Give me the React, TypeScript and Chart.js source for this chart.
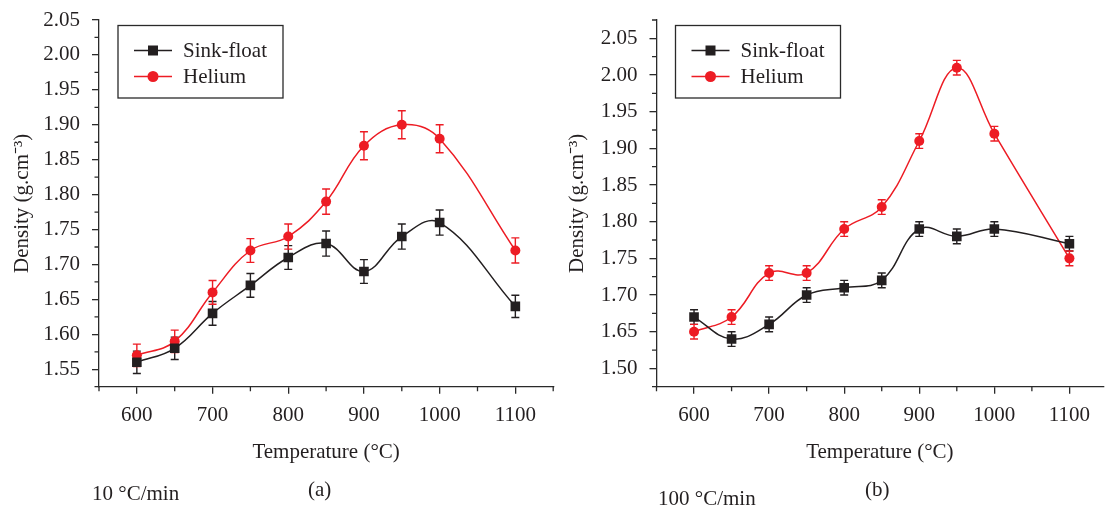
import React, { useEffect, useRef } from 'react';
import { Chart, registerables } from 'chart.js';

Chart.register(...registerables);

// ---------- data ----------
const temps = [600, 650, 700, 750, 800, 850, 900, 950, 1000, 1100];

const sinkA = [1.56, 1.58, 1.63, 1.67, 1.71, 1.73, 1.69, 1.74, 1.76, 1.64];
const sinkAErr = [0.016, 0.016, 0.017, 0.017, 0.017, 0.018, 0.017, 0.018, 0.018, 0.016];
const heliumA = [1.57, 1.59, 1.66, 1.72, 1.74, 1.79, 1.87, 1.9, 1.88, 1.72];
const heliumAErr = [0.016, 0.016, 0.017, 0.017, 0.018, 0.018, 0.02, 0.02, 0.02, 0.018];

const sinkB = [1.67, 1.64, 1.66, 1.7, 1.71, 1.72, 1.79, 1.78, 1.79, 1.77];
const sinkBErr = [0.01, 0.01, 0.01, 0.01, 0.01, 0.01, 0.01, 0.01, 0.01, 0.01];
const heliumB = [1.65, 1.67, 1.73, 1.73, 1.79, 1.82, 1.91, 2.01, 1.92, 1.75];
const heliumBErr = [0.01, 0.01, 0.01, 0.01, 0.01, 0.01, 0.01, 0.01, 0.01, 0.01];

const xTicks = [600, 700, 800, 900, 1000, 1100];
const xMinorTicks = [550, 650, 750, 850, 950, 1050, 1150];

const yTicksA = [1.55, 1.6, 1.65, 1.7, 1.75, 1.8, 1.85, 1.9, 1.95, 2.0, 2.05];
const yTickLabelsA = ['1.55', '1.60', '1.65', '1.70', '1.75', '1.80', '1.85', '1.90', '1.95', '2.00', '2.05'];
const yMinorTicksA = [1.525, 1.575, 1.625, 1.675, 1.725, 1.775, 1.825, 1.875, 1.925, 1.975, 2.025];

const yTicksB = [1.6, 1.65, 1.7, 1.75, 1.8, 1.85, 1.9, 1.95, 2.0, 2.05];
const yTickLabelsB = ['1.50', '1.65', '1.70', '1.75', '1.80', '1.85', '1.90', '1.95', '2.00', '2.05'];
const yMinorTicksB = [1.575, 1.625, 1.675, 1.725, 1.775, 1.825, 1.875, 1.925, 1.975, 2.025, 2.075];

const seriesNames = ['Sink-float', 'Helium'];
const xTitle = 'Temperature (°C)';
const yTitle = 'Density (g.cm⁻³)';

// ---------- style ----------
const FONT = '"Liberation Serif", "Times New Roman", serif';
const INK = '#231F20';
const RED = '#ED1C24';
const AXIS = '#2a2a2a';

// ---------- plugins ----------
const errorBarPlugin = {
  id: 'errorBars',
  beforeDatasetsDraw(chart: any) {
    const ctx = chart.ctx;
    const yScale = chart.scales.y;
    chart.data.datasets.forEach((ds: any, i: number) => {
      const meta = chart.getDatasetMeta(i);
      if (!ds.errors) return;
      ctx.save();
      ctx.strokeStyle = ds.borderColor;
      ctx.lineWidth = 1.4;
      meta.data.forEach((pt: any, j: number) => {
        const v = ds.data[j].y;
        const e = ds.errors[j];
        const yTop = yScale.getPixelForValue(v + e);
        const yBot = yScale.getPixelForValue(v - e);
        const x = pt.x;
        ctx.beginPath();
        ctx.moveTo(x, yTop);
        ctx.lineTo(x, yBot);
        ctx.moveTo(x - 4, yTop);
        ctx.lineTo(x + 4, yTop);
        ctx.moveTo(x - 4, yBot);
        ctx.lineTo(x + 4, yBot);
        ctx.stroke();
      });
      ctx.restore();
    });
  },
};

const minorTickPlugin = {
  id: 'minorTicks',
  afterDraw(chart: any, _args: any, opts: any) {
    const ctx = chart.ctx;
    const xs = chart.scales.x;
    const ys = chart.scales.y;
    const area = chart.chartArea;
    ctx.save();
    ctx.strokeStyle = AXIS;
    ctx.lineWidth = 1.3;
    ctx.beginPath();
    (opts.x || []).forEach((v: number) => {
      if (v < xs.min - 1e-9 || v > xs.max + 1e-9) return;
      const px = xs.getPixelForValue(v);
      ctx.moveTo(px, area.bottom);
      ctx.lineTo(px, area.bottom + 4.5);
    });
    (opts.y || []).forEach((v: number) => {
      if (v < ys.min - 1e-9 || v > ys.max + 1e-9) return;
      const py = ys.getPixelForValue(v);
      ctx.moveTo(area.left, py);
      ctx.lineTo(area.left - 4.5, py);
    });
    ctx.stroke();
    ctx.restore();
  },
};

const boxLegendPlugin = {
  id: 'boxLegend',
  afterDraw(chart: any, _args: any, opts: any) {
    const ctx = chart.ctx;
    const area = chart.chartArea;
    const bx = area.left + opts.dx;
    const by = area.top + opts.dy;
    ctx.save();
    ctx.strokeStyle = AXIS;
    ctx.lineWidth = 1.3;
    ctx.strokeRect(bx, by, opts.w, opts.h);
    chart.data.datasets.forEach((ds: any, i: number) => {
      const cy = by + 25 + i * 26;
      ctx.strokeStyle = ds.borderColor;
      ctx.lineWidth = 1.5;
      ctx.beginPath();
      ctx.moveTo(bx + 16, cy);
      ctx.lineTo(bx + 54, cy);
      ctx.stroke();
      ctx.fillStyle = ds.backgroundColor;
      if (ds.pointStyle === 'rect') {
        ctx.fillRect(bx + 35 - 5, cy - 5, 10, 10);
      } else {
        ctx.beginPath();
        ctx.arc(bx + 35, cy, 5.5, 0, Math.PI * 2);
        ctx.fill();
      }
      ctx.fillStyle = INK;
      ctx.font = `21px ${FONT}`;
      ctx.textBaseline = 'middle';
      ctx.textAlign = 'left';
      ctx.fillText(ds.label, bx + 65, cy + 1);
    });
    ctx.restore();
  },
};

function buildConfig(
  sink: number[],
  sinkErr: number[],
  helium: number[],
  heliumErr: number[],
  xMax: number,
  yMin: number,
  yMax: number,
  yTicks: number[],
  yLabels: string[],
  yMinor: number[],
  yAxisWidth: number,
  padRight: number,
  yTitlePad: number
): any {
  return {
    type: 'line',
    data: {
      datasets: [
        {
          label: seriesNames[0],
          data: temps.map((t, i) => ({ x: t, y: sink[i] })),
          errors: sinkErr,
          borderColor: INK,
          backgroundColor: INK,
          borderWidth: 1.5,
          pointStyle: 'rect',
          pointRadius: 6.8,
          pointBorderWidth: 0,
          tension: 0.4,
          fill: false,
        },
        {
          label: seriesNames[1],
          data: temps.map((t, i) => ({ x: t, y: helium[i] })),
          errors: heliumErr,
          borderColor: RED,
          backgroundColor: RED,
          borderWidth: 1.5,
          pointStyle: 'circle',
          pointRadius: 5,
          pointBorderWidth: 0,
          tension: 0.4,
          fill: false,
        },
      ],
    },
    options: {
      responsive: false,
      animation: false,
      events: [],
      layout: { padding: { left: 0, top: 20, right: padRight, bottom: 0 } },
      plugins: {
        legend: { display: false },
        tooltip: { enabled: false },
        minorTicks: { x: xMinorTicks, y: yMinor },
        boxLegend: { dx: 19, dy: 5.5, w: 165, h: 72.5 },
      },
      scales: {
        x: {
          type: 'linear',
          min: 550,
          max: xMax,
          afterBuildTicks: (s: any) => {
            s.ticks = xTicks.map((v) => ({ value: v }));
          },
          afterFit: (s: any) => {
            s.height = 120.3;
            s.paddingLeft = 0;
            s.paddingRight = 0;
          },
          ticks: {
            color: INK,
            font: { family: FONT, size: 21 },
            padding: 9,
            maxRotation: 0,
            autoSkip: false,
            callback: (v: any) => String(v),
          },
          grid: {
            display: true,
            drawOnChartArea: false,
            drawTicks: true,
            tickLength: 7,
            color: AXIS,
            lineWidth: 1.3,
          },
          border: { display: true, color: AXIS, width: 1.3 },
          title: {
            display: true,
            text: xTitle,
            color: INK,
            font: { family: FONT, size: 21 },
            padding: { top: 0, bottom: 42.4 },
          },
        },
        y: {
          type: 'linear',
          min: yMin,
          max: yMax,
          afterBuildTicks: (s: any) => {
            s.ticks = yTicks.map((v) => ({ value: v }));
          },
          afterFit: (s: any) => {
            s.width = yAxisWidth;
            s.paddingTop = 0;
            s.paddingBottom = 0;
          },
          ticks: {
            color: INK,
            font: { family: FONT, size: 21 },
            padding: 12,
            autoSkip: false,
            callback: (_v: any, idx: number) => yLabels[idx],
          },
          grid: {
            display: true,
            drawOnChartArea: false,
            drawTicks: true,
            tickLength: 7,
            color: AXIS,
            lineWidth: 1.3,
          },
          border: { display: true, color: AXIS, width: 1.3 },
          title: {
            display: true,
            text: yTitle,
            color: INK,
            font: { family: FONT, size: 21 },
            padding: { top: yTitlePad, bottom: 0 },
          },
        },
      },
    },
    plugins: [errorBarPlugin, minorTickPlugin, boxLegendPlugin],
  };
}

function Panel(props: { config: any; left: number; width: number }) {
  const ref = useRef<HTMLCanvasElement | null>(null);
  useEffect(() => {
    if (!ref.current) return;
    const chart = new Chart(ref.current, props.config);
    return () => chart.destroy();
  }, []);
  return (
    <canvas
      ref={ref}
      width={props.width}
      height={507}
      style={{ position: 'absolute', left: props.left, top: 0, width: props.width, height: 507 }}
    />
  );
}

const textStyle: React.CSSProperties = {
  position: 'absolute',
  fontFamily: FONT,
  fontSize: 21,
  lineHeight: '22px',
  color: INK,
  whiteSpace: 'nowrap',
};

export default function App() {
  const configA = buildConfig(
    sinkA, sinkAErr, heliumA, heliumAErr,
    1150, 1.525, 2.05, yTicksA, yTickLabelsA, yMinorTicksA, 99, 3, 9.4
  );
  const configB = buildConfig(
    sinkB, sinkBErr, heliumB, heliumBErr,
    1145, 1.575, 2.075, yTicksB, yTickLabelsB, yMinorTicksB, 96.5, 0, 4.4
  );
  return (
    <div style={{ position: 'absolute', left: 0, top: 0, width: 1110, height: 507, overflow: 'hidden', background: '#fff' }}>
      <Panel config={configA} left={0} width={560} />
      <Panel config={configB} left={560} width={550} />
      <div style={{ ...textStyle, left: 92, top: 482 }}>10 °C/min</div>
      <div style={{ ...textStyle, left: 308, top: 478 }}>(a)</div>
      <div style={{ ...textStyle, left: 658, top: 487 }}>100 °C/min</div>
      <div style={{ ...textStyle, left: 865, top: 478 }}>(b)</div>
    </div>
  );
}
